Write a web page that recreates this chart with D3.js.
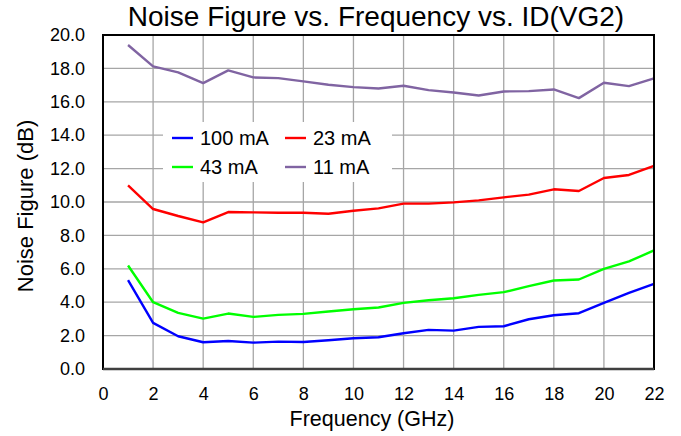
<!DOCTYPE html>
<html>
<head>
<meta charset="utf-8">
<script src="https://cdn.jsdelivr.net/npm/d3@7"></script>
<style>
  body { margin: 0; background: #fff; }
  text { font-family: Arial, "Liberation Sans", sans-serif; fill: #000; }
</style>
</head>
<body>
<script>
// frequency points (GHz)
const freq = [1,2,3,4,5,6,7,8,9,10,11,12,13,14,15,16,17,18,19,20,21,22];

// noise figure (dB) per bias current
const nf100 = [5.32,2.76,1.96,1.60,1.68,1.58,1.64,1.62,1.72,1.84,1.90,2.14,2.34,2.30,2.52,2.56,2.98,3.22,3.34,3.96,4.56,5.10];
const nf23  = [11.0,9.58,9.16,8.78,9.40,9.38,9.36,9.36,9.30,9.48,9.62,9.90,9.90,9.98,10.10,10.28,10.44,10.76,10.66,11.44,11.62,12.16];
const nf43  = [6.20,4.00,3.36,3.02,3.32,3.12,3.24,3.30,3.44,3.58,3.68,3.96,4.12,4.24,4.44,4.60,4.96,5.30,5.36,6.00,6.44,7.10];
const nf11  = [19.4,18.12,17.76,17.12,17.88,17.46,17.42,17.22,17.02,16.88,16.80,16.96,16.70,16.56,16.38,16.62,16.64,16.74,16.22,17.14,16.94,17.40];

const seriesNames = ["100 mA", "23 mA", "43 mA", "11 mA"];
const seriesColors = ["#0000ff", "#ff0000", "#00ff00", "#8064a2"];
const seriesValues = [nf100, nf23, nf43, nf11];

const xTicks = [0,2,4,6,8,10,12,14,16,18,20,22];
const yTicks = [0,2,4,6,8,10,12,14,16,18,20];

const width = 681, height = 436;
const margin = {left: 103, right: 27, top: 35, bottom: 67};

const svg = d3.select("body").append("svg")
    .attr("width", width)
    .attr("height", height);

const x = d3.scaleLinear().domain([0, 22]).range([margin.left, width - margin.right]);
const y = d3.scaleLinear().domain([0, 20]).range([height - margin.bottom, margin.top]);

// grid
svg.append("g").selectAll("line.v")
    .data(xTicks.slice(1, -1))
    .enter().append("line")
    .attr("x1", d => x(d)).attr("x2", d => x(d))
    .attr("y1", y(0)).attr("y2", y(20))
    .attr("stroke", "#a6a6a6").attr("stroke-width", 1.3);

svg.append("g").selectAll("line.h")
    .data(yTicks.slice(1, -1))
    .enter().append("line")
    .attr("x1", x(0)).attr("x2", x(22))
    .attr("y1", d => y(d)).attr("y2", d => y(d))
    .attr("stroke", "#a6a6a6").attr("stroke-width", 1.3);

// legend background hides the grid behind it
svg.append("rect")
    .attr("x", 163).attr("y", 122)
    .attr("width", 229).attr("height", 60)
    .attr("fill", "#fff");

// lines
const line = d3.line()
    .x((d, i) => x(freq[i]))
    .y(d => y(d));

seriesValues.forEach((vals, k) => {
  svg.append("path")
      .datum(vals)
      .attr("fill", "none")
      .attr("stroke", seriesColors[k])
      .attr("stroke-width", 2.4)
      .attr("stroke-linejoin", "round")
      .attr("d", line);
});

// frame
svg.append("rect")
    .attr("x", x(0)).attr("y", y(20))
    .attr("width", x(22) - x(0)).attr("height", y(0) - y(20))
    .attr("fill", "none")
    .attr("stroke", "#000").attr("stroke-width", 2);
svg.append("line")
    .attr("x1", x(0)).attr("x2", x(22))
    .attr("y1", y(0)).attr("y2", y(0))
    .attr("stroke", "#404040").attr("stroke-width", 2.5);

// axes (labels only)
const xAxis = d3.axisBottom(x).tickValues(xTicks).tickSize(0).tickPadding(18).tickFormat(d3.format("d"));
const yAxis = d3.axisLeft(y).tickValues(yTicks).tickSize(0).tickPadding(18).tickFormat(d3.format(".1f"));

const gx = svg.append("g").attr("transform", `translate(0,${y(0)})`).call(xAxis);
const gy = svg.append("g").attr("transform", `translate(${x(0)},0)`).call(yAxis);
[gx, gy].forEach(g => {
  g.select(".domain").remove();
  g.selectAll("text").attr("font-size", 18).attr("font-family", "Arial, 'Liberation Sans', sans-serif").attr("fill", "#000");
});

// titles
svg.append("text")
    .attr("x", 376).attr("y", 26)
    .attr("text-anchor", "middle")
    .attr("font-size", 28)
    .text("Noise Figure vs. Frequency vs. ID(VG2)");

svg.append("text")
    .attr("x", 372).attr("y", 426)
    .attr("text-anchor", "middle")
    .attr("font-size", 21.5)
    .text("Frequency (GHz)");

svg.append("text")
    .attr("transform", `translate(33,206) rotate(-90)`)
    .attr("text-anchor", "middle")
    .attr("font-size", 22)
    .text("Noise Figure (dB)");

// legend
const legendPos = [[172, 138], [285, 138], [172, 167], [285, 167]];
const lg = svg.append("g").selectAll("g")
    .data(seriesNames)
    .enter().append("g")
    .attr("transform", (d, i) => `translate(${legendPos[i][0]},${legendPos[i][1]})`);
lg.append("line")
    .attr("x1", 0).attr("x2", 21)
    .attr("stroke", (d, i) => seriesColors[i])
    .attr("stroke-width", 2.4);
lg.append("text")
    .attr("x", 28).attr("dy", "0.35em")
    .attr("font-size", 20)
    .text(d => d);
</script>
</body>
</html>
